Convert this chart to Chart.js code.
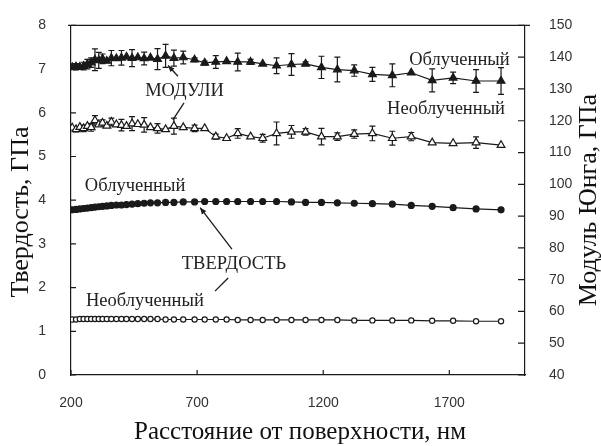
<!DOCTYPE html>
<html>
<head>
<meta charset="utf-8">
<script src="https://cdn.jsdelivr.net/npm/chart.js@4.4.1/dist/chart.umd.min.js"></script>
<style>
  body { margin: 0; background: #fff; }
  #wrap { width: 601px; height: 446px; }
</style>
</head>
<body>
<div id="wrap"><canvas id="chart" width="601" height="446"></canvas></div>
<script>
// depth, nm
const distance = [205, 220, 235, 250, 265, 280, 295, 310, 325, 342, 360, 380, 400, 420, 442, 465, 490, 515, 543, 575,
  608, 645, 690, 730, 774, 817, 861, 912, 960, 1015, 1074, 1130, 1193, 1256, 1323, 1395, 1474, 1549, 1632, 1715, 1806, 1905];

// Young's modulus, GPa (right axis)
const modIrr = [136.8, 137.0, 136.9, 137.2, 137.8, 138.3, 139.2, 139.0, 139.5, 138.8, 139.7, 139.6, 139.8, 140.1, 139.7, 139.9,
  139.6, 139.8, 139.4, 140.4, 139.7, 139.9, 139.2, 138.2, 138.5, 138.7, 138.5, 138.5, 137.9, 137.3, 137.7, 137.9, 136.8, 136.1,
  135.8, 134.6, 134.3, 135.1, 132.7, 133.5, 132.5, 132.5];
const modIrrErr = [0, 1.0, 0, 1.2, 1.5, 1.5, 3.4, 2.5, 1.5, 0, 2.4, 0, 2.3, 0, 2.7, 0, 2.0, 0, 3.3, 3.6,
  2.5, 2.0, 0.6, 0.6, 2.0, 0, 2.8, 0.8, 0, 2.5, 3.4, 0.6, 3.5, 3.9, 1.8, 2.2, 3.6, 0, 3.6, 1.8, 3.6, 4.2];
const modUnirr = [117.8, 117.3, 118.0, 117.6, 118.3, 117.9, 120.1, 118.8, 119.3, 118.4, 119.6, 118.8, 118.6, 118.3, 119.1, 118.9,
  118.7, 117.9, 117.6, 117.3, 118.3, 117.9, 117.6, 117.6, 115.0, 114.5, 116.0, 115.0, 114.5, 116.0, 116.5, 116.5, 115.0, 115.0,
  115.8, 116.0, 114.5, 115.0, 113.1, 112.9, 113.1, 112.3];
const modUnirrErr = [0, 0.8, 0, 1.0, 0, 1.2, 1.5, 0, 1.0, 0, 1.2, 0, 1.8, 0, 2.2, 0, 2.3, 0, 1.5, 0,
  2.5, 0, 1.0, 0, 0.8, 0, 1.5, 0, 1.2, 3.6, 2.0, 1.0, 2.6, 1.2, 1.3, 2.3, 2.2, 1.3, 0, 0, 1.8, 0];

// hardness, GPa (left axis)
const hardIrr = [3.78, 3.79, 3.80, 3.81, 3.82, 3.83, 3.84, 3.85, 3.86, 3.87, 3.88, 3.89, 3.89, 3.90, 3.91, 3.92, 3.93, 3.94,
  3.94, 3.95, 3.95, 3.96, 3.96, 3.97, 3.97, 3.97, 3.97, 3.97, 3.97, 3.97, 3.96, 3.95, 3.95, 3.94, 3.93, 3.92, 3.91, 3.88,
  3.86, 3.83, 3.80, 3.78];
const hardUnirr = [1.27, 1.27, 1.28, 1.28, 1.28, 1.28, 1.28, 1.28, 1.28, 1.28, 1.28, 1.28, 1.28, 1.28, 1.28, 1.28, 1.28, 1.28,
  1.28, 1.27, 1.27, 1.27, 1.27, 1.27, 1.27, 1.27, 1.26, 1.26, 1.26, 1.26, 1.26, 1.26, 1.26, 1.26, 1.25, 1.25, 1.25, 1.25,
  1.24, 1.24, 1.23, 1.23];

const xTicks = [200, 700, 1200, 1700];

// text notes placed in data units: [text, x(nm), value, axis id]
const notes = [
  ['Облученный', 1740, 139.2, 'y1'],
  ['Необлученный', 1687, 123.6, 'y1'],
  ['МОДУЛИ', 650, 129.2, 'y1'],
  ['Облученный', 454, 4.32, 'y'],
  ['ТВЕРДОСТЬ', 846, 2.53, 'y'],
  ['Необлученный', 493, 1.70, 'y']
];
// arrows: [x0, v0, x1, v1, axis, head]
const arrows = [
  [624, 134.0, 585, 137.4, 'y1', true],
  [648, 125.6, 604, 120.3, 'y1', false],
  [838, 2.88, 712, 3.83, 'y', true],
  [823, 2.22, 771, 1.92, 'y', false]
];

const ink = '#1a1a1a';
const serif = '"Liberation Serif", "Times New Roman", serif';

function pts(ys) {
  return distance.map((x, i) => ({ x: x, y: ys[i] }));
}

const errorBars = {
  id: 'errorBars',
  beforeDatasetsDraw(chart) {
    const ctx = chart.ctx;
    const xs = chart.scales.x, ys = chart.scales.y1;
    [[modIrr, modIrrErr], [modUnirr, modUnirrErr]].forEach(function(pair) {
      ctx.save();
      ctx.strokeStyle = ink;
      ctx.lineWidth = 1.2;
      pair[0].forEach(function(v, i) {
        const e = pair[1][i];
        if (!e) return;
        const px = xs.getPixelForValue(distance[i]);
        const top = ys.getPixelForValue(v + e), bot = ys.getPixelForValue(v - e);
        ctx.beginPath();
        ctx.moveTo(px, top); ctx.lineTo(px, bot);
        ctx.moveTo(px - 3, top); ctx.lineTo(px + 3, top);
        ctx.moveTo(px - 3, bot); ctx.lineTo(px + 3, bot);
        ctx.stroke();
      });
      ctx.restore();
    });
  }
};

const decor = {
  id: 'decor',
  afterDraw(chart) {
    const ctx = chart.ctx;
    const a = chart.chartArea;
    const xs = chart.scales.x, yl = chart.scales.y, yr = chart.scales.y1;
    ctx.save();
    ctx.strokeStyle = ink;
    ctx.lineWidth = 1.2;

    // top frame line
    ctx.beginPath();
    ctx.moveTo(a.left - 3, a.top); ctx.lineTo(a.right + 5, a.top);
    ctx.stroke();

    // inward tick marks
    ctx.beginPath();
    yl.ticks.forEach(function(t) {
      const p = yl.getPixelForValue(t.value);
      ctx.moveTo(a.left, p); ctx.lineTo(a.left + 5, p);
    });
    yr.ticks.forEach(function(t) {
      const p = yr.getPixelForValue(t.value);
      ctx.moveTo(a.right, p); ctx.lineTo(a.right - 7, p);
    });
    xs.ticks.forEach(function(t) {
      const p = xs.getPixelForValue(t.value);
      ctx.moveTo(p, a.bottom); ctx.lineTo(p, a.bottom - 5);
    });
    ctx.stroke();

    // axis titles
    ctx.fillStyle = '#111';
    ctx.textAlign = 'center';
    ctx.textBaseline = 'middle';
    ctx.font = '25px ' + serif;
    ctx.fillText('Расстояние от поверхности, нм', 300, 432);
    ctx.font = '26px ' + serif;
    ctx.save();
    ctx.translate(21, 212); ctx.rotate(-Math.PI / 2);
    ctx.fillText('Твердость, ГПа', 0, 0);
    ctx.restore();
    ctx.save();
    ctx.translate(589, 200); ctx.rotate(-Math.PI / 2);
    ctx.fillText('Модуль Юнга, ГПа', 0, 0);
    ctx.restore();

    // notes
    ctx.font = '18.5px ' + serif;
    ctx.fillStyle = '#222';
    notes.forEach(function(n) {
      const s = n[3] === 'y1' ? yr : yl;
      ctx.fillText(n[0], xs.getPixelForValue(n[1]), s.getPixelForValue(n[2]));
    });

    // arrows
    ctx.lineWidth = 1.3;
    arrows.forEach(function(r) {
      const s = r[4] === 'y1' ? yr : yl;
      const x0 = xs.getPixelForValue(r[0]), y0 = s.getPixelForValue(r[1]);
      const x1 = xs.getPixelForValue(r[2]), y1 = s.getPixelForValue(r[3]);
      ctx.beginPath();
      ctx.moveTo(x0, y0); ctx.lineTo(x1, y1);
      ctx.stroke();
      if (r[5]) {
        const ang = Math.atan2(y1 - y0, x1 - x0);
        ctx.beginPath();
        ctx.moveTo(x1, y1);
        ctx.lineTo(x1 - 7 * Math.cos(ang - 0.4), y1 - 7 * Math.sin(ang - 0.4));
        ctx.lineTo(x1 - 7 * Math.cos(ang + 0.4), y1 - 7 * Math.sin(ang + 0.4));
        ctx.closePath();
        ctx.fillStyle = ink;
        ctx.fill();
      }
    });
    ctx.restore();
  }
};

const tickFont = { family: '"Liberation Sans", Arial, sans-serif', size: 14 };

new Chart(document.getElementById('chart'), {
  type: 'line',
  data: {
    datasets: [
      { label: 'Модуль, облученный', data: pts(modIrr), yAxisID: 'y1', borderColor: ink, borderWidth: 1.2,
        pointStyle: 'triangle', pointRadius: 4.5, pointBackgroundColor: ink, pointBorderColor: ink },
      { label: 'Модуль, необлученный', data: pts(modUnirr), yAxisID: 'y1', borderColor: ink, borderWidth: 1.2,
        pointStyle: 'triangle', pointRadius: 4.5, pointBackgroundColor: '#fff', pointBorderColor: ink, pointBorderWidth: 1.2 },
      { label: 'Твердость, облученный', data: pts(hardIrr), yAxisID: 'y', borderColor: ink, borderWidth: 1.2,
        pointStyle: 'circle', pointRadius: 3, pointBackgroundColor: ink, pointBorderColor: ink },
      { label: 'Твердость, необлученный', data: pts(hardUnirr), yAxisID: 'y', borderColor: ink, borderWidth: 1.2,
        pointStyle: 'circle', pointRadius: 2.6, pointBackgroundColor: '#fff', pointBorderColor: ink, pointBorderWidth: 1.2 }
    ]
  },
  options: {
    responsive: false,
    animation: false,
    layout: { padding: { top: 22, left: 0, right: 0, bottom: 0 } },
    plugins: { legend: { display: false }, tooltip: { enabled: false } },
    scales: {
      x: {
        type: 'linear', min: 200, max: 2000,
        afterBuildTicks: function(s) { s.ticks = xTicks.map(v => ({ value: v })); },
        afterFit: function(s) { s.height = 71; },
        grid: { display: false },
        border: { display: true, color: ink, width: 1.2 },
        ticks: { color: '#333', font: tickFont, padding: 12, maxRotation: 0,
          callback: function(v) { return String(v); } }
      },
      y: {
        position: 'left', min: 0, max: 8,
        afterFit: function(s) { s.width = 71; },
        grid: { display: false },
        border: { display: true, color: ink, width: 1.2 },
        ticks: { stepSize: 1, color: '#333', font: tickFont, padding: 17 }
      },
      y1: {
        position: 'right', min: 40, max: 150,
        afterFit: function(s) { s.width = 76; },
        grid: { display: false },
        border: { display: true, color: ink, width: 1.2 },
        ticks: { stepSize: 10, color: '#333', font: tickFont, padding: 16 }
      }
    }
  },
  plugins: [errorBars, decor]
});
</script>
</body>
</html>
